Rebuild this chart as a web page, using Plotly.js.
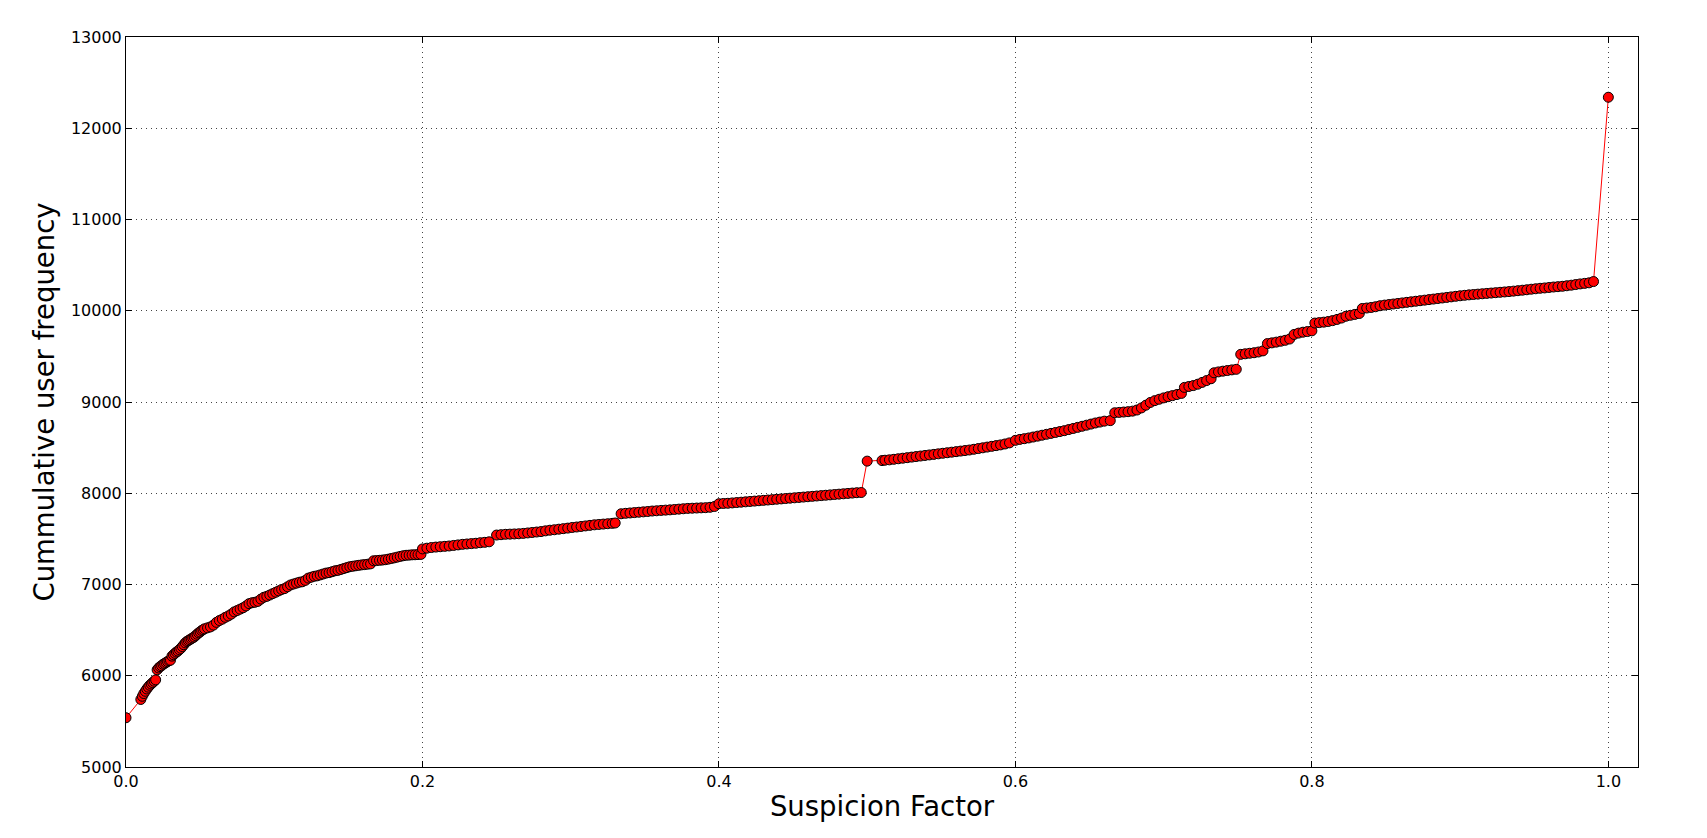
<!DOCTYPE html>
<html>
<head>
<meta charset="utf-8">
<script src="https://cdn.plot.ly/plotly-3.0.1.min.js"></script>
<style>html,body{margin:0;padding:0;background:#fff;}#chart{width:1707px;height:838px;}</style>
</head>
<body>
<div id="chart"></div>
<script>
const suspicionFactor = [
0.000,0.010,0.011,0.012,0.013,0.014,0.015,0.016,0.017,0.018,0.019,0.020,
0.021,0.022,0.023,0.024,0.025,0.026,0.027,0.028,0.029,0.030,
0.031,0.032,0.033,0.034,0.035,0.036,0.037,0.038,0.039,0.040,
0.041,0.042,0.043,0.044,0.045,0.046,0.047,0.048,0.049,0.050,
0.051,0.052,0.053,0.055,0.057,0.059,0.061,0.063,0.065,0.067,0.069,
0.071,0.073,0.075,0.077,0.079,0.081,0.083,0.085,0.087,0.089,
0.091,0.093,0.095,0.097,0.099,0.101,0.103,0.105,0.107,0.109,
0.111,0.113,0.115,0.117,0.119,0.121,0.123,0.125,0.127,0.129,
0.131,0.133,0.135,0.137,0.139,0.141,0.143,0.145,0.147,0.149,
0.151,0.153,0.155,0.157,0.159,0.161,0.163,0.165,
0.167,0.169,0.171,0.173,0.175,0.177,0.179,0.181,0.183,0.185,0.187,0.189,0.191,0.193,0.195,0.197,0.199,
0.200,0.203,0.206,0.209,0.212,0.215,0.218,0.221,0.224,0.227,0.230,0.233,0.236,0.239,0.242,0.245,
0.250,0.253,0.256,0.259,0.262,0.265,0.268,0.271,0.274,0.277,0.280,0.283,0.286,0.289,0.292,0.295,0.298,
0.301,0.304,0.307,0.310,0.313,0.316,0.319,0.322,0.325,0.328,0.330,
0.334,0.337,0.340,0.343,0.346,0.349,0.352,0.355,0.358,0.361,0.364,0.367,0.370,0.373,0.376,0.379,
0.382,0.385,0.388,0.391,0.394,0.397,
0.400,0.403,0.406,0.409,0.412,0.415,0.418,0.421,0.424,0.427,0.430,0.433,0.436,0.439,0.442,0.445,0.448,
0.451,0.454,0.457,0.460,0.463,0.466,0.469,0.472,0.475,0.478,0.481,0.484,0.487,0.490,0.493,0.496,
0.500,0.510,0.512,0.515,0.518,0.521,0.524,0.527,0.530,0.533,0.536,0.539,0.542,0.545,0.548,
0.551,0.554,0.557,0.560,0.563,0.566,0.569,0.572,0.575,0.578,0.581,0.584,0.587,0.590,0.593,0.596,
0.600,0.603,0.606,0.609,0.612,0.615,0.618,0.621,0.624,0.627,0.630,0.633,0.636,0.639,0.642,0.645,0.648,
0.651,0.654,0.657,0.660,0.664,
0.667,0.670,0.673,0.676,0.679,0.682,0.685,0.688,0.691,0.694,0.697,0.700,0.703,0.706,0.709,0.712,
0.714,0.717,0.720,0.723,0.726,0.729,0.732,
0.734,0.737,0.740,0.743,0.746,0.749,
0.752,0.755,0.758,0.761,0.764,0.767,
0.770,0.773,0.776,0.779,0.782,0.785,
0.788,0.791,0.794,0.797,0.800,
0.802,0.805,0.808,0.811,0.814,0.817,0.820,0.823,0.826,0.829,0.832,
0.834,0.837,0.840,0.843,0.846,0.849,0.852,0.855,0.858,0.861,0.864,0.867,0.870,0.873,0.876,0.879,
0.882,0.885,0.888,0.891,0.894,0.897,0.900,0.903,0.906,0.909,0.912,0.915,0.918,0.921,0.924,0.927,
0.930,0.933,0.936,0.939,0.942,0.945,0.948,0.951,0.954,0.957,0.960,0.963,0.966,0.969,0.972,0.975,
0.978,0.981,0.984,0.987,0.990,
1.000
];
const cumulativeFrequency = [
5540,5740,5775,5805,5830,5855,5875,5895,5910,5925,5940,5955,
6065,6085,6100,6110,6125,6135,6145,6155,6165,6170,
6215,6230,6245,6260,6270,6285,6300,6320,6340,6360,
6375,6385,6395,6405,6415,6425,6440,6455,6470,6480,
6495,6505,6515,6525,6535,6555,6585,6605,6620,6640,6655,
6675,6700,6715,6730,6745,6765,6790,6800,6805,6815,
6840,6860,6870,6885,6900,6915,6930,6945,6955,6975,
6995,7005,7015,7025,7030,7045,7070,7080,7090,7095,
7105,7115,7125,7130,7140,7150,7155,7165,7175,7185,
7195,7200,7205,7210,7215,7218,7222,7226,
7260,7262,7265,7268,7272,7278,7285,7292,7300,7308,7315,7320,7322,7325,7326,7328,7330,
7390,7398,7405,7410,7414,7418,7422,7428,7434,7440,7444,7448,7452,7458,7462,7468,
7542,7546,7550,7552,7554,7556,7560,7565,7570,7575,7580,7588,7595,7600,7606,7612,7618,
7625,7630,7636,7642,7648,7654,7658,7662,7666,7670,7674,
7775,7780,7784,7788,7792,7796,7800,7805,7808,7812,7815,7818,7822,7826,7830,7834,
7836,7838,7840,7842,7846,7855,
7885,7888,7890,7894,7898,7902,7906,7910,7914,7918,7922,7926,7930,7934,7938,7942,7946,
7950,7954,7958,7962,7966,7970,7974,7978,7982,7986,7990,7994,7998,8002,8006,8008,
8352,8358,8362,8366,8372,8378,8384,8390,8396,8402,8408,8414,8420,8426,8432,
8438,8444,8450,8456,8462,8468,8474,8482,8490,8498,8506,8514,8522,8530,8540,8552,
8580,8590,8598,8606,8616,8626,8636,8646,8656,8666,8676,8686,8698,8710,8722,8734,8746,
8758,8770,8780,8790,8796,
8882,8886,8890,8894,8900,8912,8935,8965,8995,9015,9030,9045,9058,9070,9082,9094,
9160,9170,9180,9195,9215,9235,9255,
9320,9330,9338,9345,9352,9358,
9522,9528,9534,9540,9548,9560,
9640,9648,9656,9666,9676,9690,
9740,9755,9765,9772,9780,
9865,9870,9875,9882,9892,9905,9920,9940,9950,9960,9970,
10025,10030,10036,10044,10055,10062,10068,10074,10080,10086,10092,10098,10104,10110,10116,10122,
10128,10134,10140,10146,10152,10158,10164,10169,10174,10178,10182,10186,10190,10194,10198,10202,
10206,10210,10215,10220,10225,10230,10236,10241,10246,10250,10255,10260,10264,10268,10274,10280,
10287,10294,10300,10306,10320,
12340
];
const xTickValues = [0.0, 0.2, 0.4, 0.6, 0.8, 1.0];
const xTickLabels = ["0.0", "0.2", "0.4", "0.6", "0.8", "1.0"];
const yTickValues = [5000, 6000, 7000, 8000, 9000, 10000, 11000, 12000, 13000];
const yTickLabels = ["5000", "6000", "7000", "8000", "9000", "10000", "11000", "12000", "13000"];

const trace = {
  x: suspicionFactor,
  y: cumulativeFrequency,
  type: 'scatter',
  mode: 'lines+markers',
  line: {color: '#ff0000', width: 1},
  marker: {color: '#ff0000', size: 10, line: {color: '#000000', width: 1}},
  hoverinfo: 'x+y'
};

const axisCommon = {
  showline: true, linecolor: '#000', linewidth: 1, mirror: 'ticks',
  ticks: 'inside', ticklen: 6, tickwidth: 1, tickcolor: '#000',
  showgrid: true, gridcolor: '#444', gridwidth: 1, griddash: '1px,4px',
  zeroline: false,
  tickfont: {family: 'DejaVu Sans', size: 16, color: '#000'}
};

const layout = {
  width: 1707, height: 838,
  margin: {l: 126, r: 69, t: 37, b: 71},
  paper_bgcolor: '#fff', plot_bgcolor: '#fff',
  showlegend: false,
  xaxis: Object.assign({}, axisCommon, {
    range: [0, 1.02], tickmode: 'array', tickvals: xTickValues, ticktext: xTickLabels,
    title: {text: 'Suspicion Factor', font: {family: 'DejaVu Sans', size: 27.5, color: '#000'}, standoff: 6}
  }),
  yaxis: Object.assign({}, axisCommon, {
    range: [5000, 13000], tickmode: 'array', tickvals: yTickValues, ticktext: yTickLabels,
    title: {text: 'Cummulative user frequency', font: {family: 'DejaVu Sans', size: 27.5, color: '#000'}, standoff: 8}
  })
};

Plotly.newPlot('chart', [trace], layout, {displayModeBar: false, staticPlot: true});
</script>
</body>
</html>
